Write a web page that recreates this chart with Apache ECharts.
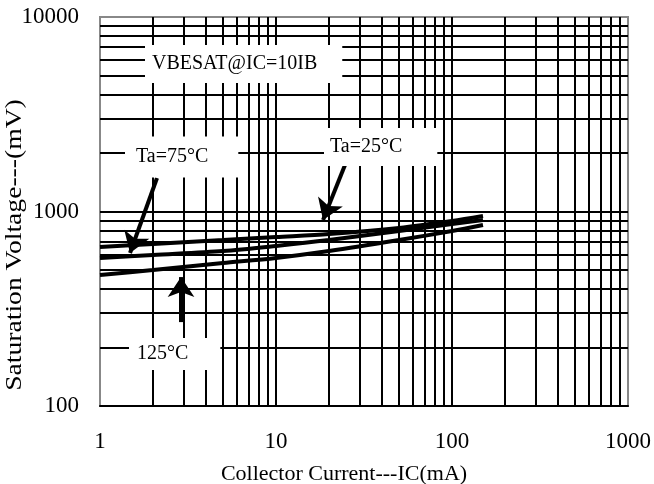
<!DOCTYPE html>
<html>
<head>
<meta charset="utf-8">
<script src="https://cdn.jsdelivr.net/npm/echarts@6/dist/echarts.min.js"></script>
<style>html,body{margin:0;padding:0;background:#fff}#c{width:654px;height:484px}</style>
</head>
<body>
<div id="c"></div>
<script>
// Collector current (mA)
const current = [1, 2, 5, 10, 20, 50, 100, 150];
// VBE(sat) in mV
const vbe25 = [657, 681, 713, 739, 766, 823, 893, 948];
const vbe75 = [577, 598, 626, 665, 713, 794, 862, 904];
const vbe125 = [472, 500, 543, 577, 626, 713, 794, 853];
// grid lines
const xGrid = [2,3,4,5,6,7,8,9,10,20,30,40,50,60,70,80,90,100,200,300,400,500,600,700,800,900];
const yGrid = [200,300,400,500,600,700,800,900,1000,2000,3000,4000,5000,6000,7000,8000,9000];
const xTicks = [1, 10, 100, 1000];
const yTicks = [100, 1000, 10000];
// arrows [start, tip] in data units
const arrows = [
  [[2.108, 1486], [1.481, 612]],
  [[24.66, 1734], [18.5, 904]],
  [[2.886, 270], [2.886, 460]]
];

const serif = '"Liberation Serif","Times New Roman",serif';
const chart = echarts.init(document.getElementById('c'));
const toPairs = (ys) => current.map((x, i) => [x, ys[i]]);

const gridLines = xGrid.map(v => ({xAxis: v})).concat(yGrid.map(v => ({yAxis: v})));

chart.setOption({
  animation: false,
  backgroundColor: '#fff',
  grid: {left: 100, right: 26, top: 17, bottom: 78, containLabel: false, outerBoundsMode: 'none',
    show: true, borderColor: '#888', borderWidth: 2, backgroundColor: 'transparent'},
  xAxis: {
    type: 'log', min: 1, max: 1000, logBase: 10,
    name: 'Collector Current---IC(mA)', nameLocation: 'middle', nameGap: 57, nameMoveOverlap: false,
    nameTextStyle: {fontFamily: serif, fontSize: 22, color: '#000', padding: [0, 40, 0, 0]},
    axisLine: {lineStyle: {color: '#000', width: 2}},
    axisTick: {show: false},
    splitLine: {show: false},
    axisLabel: {fontFamily: serif, fontSize: 23, color: '#000', margin: 24,
      formatter: v => xTicks.includes(Math.round(v)) ? String(Math.round(v)) : ''}
  },
  yAxis: {
    type: 'log', min: 100, max: 10000, logBase: 10,
    axisLine: {show: true, lineStyle: {color: '#888', width: 1}},
    axisTick: {show: false},
    splitLine: {show: false},
    axisLabel: {fontFamily: serif, fontSize: 23, color: '#000', margin: 21,
      formatter: v => yTicks.includes(Math.round(v)) ? String(Math.round(v)) : ''}
  },
  series: [
    {
      type: 'line', name: 'grid', data: [], silent: true,
      markLine: {silent: true, symbol: ['none', 'none'], label: {show: false},
        lineStyle: {color: '#000', width: 2, type: 'solid'}, data: gridLines, animation: false}
    },
    {type: 'line', name: '25', data: toPairs(vbe25), smooth: 0.3, symbol: 'none', lineStyle: {color: '#000', width: 4}, z: 3},
    {type: 'line', name: '75', data: toPairs(vbe75), smooth: 0.3, symbol: 'none', lineStyle: {color: '#000', width: 4}, z: 3},
    {type: 'line', name: '125', data: toPairs(vbe125), smooth: 0.3, symbol: 'none', lineStyle: {color: '#000', width: 4}, z: 3,
      markLine: {silent: true, symbol: ['none', 'arrow'], symbolSize: 20, label: {show: false},
        lineStyle: {color: '#000', width: 4, type: 'solid'},
        data: arrows.map(a => [{coord: a[0]}, {coord: a[1]}])}
    }
  ],
  graphic: [
    {type: 'text', z: 100, x: 15, y: 245, rotation: Math.PI / 2, scaleX: 1.2, style: {text: 'Saturation Voltage---(mV)', font: '23px ' + serif, fill: '#000', align: 'center', verticalAlign: 'middle'}},
    {type: 'text', z: 100, x: 145, y: 64, style: {text: 'VBESAT@IC=10IB', font: '20px ' + serif, fill: '#000', align: 'left', verticalAlign: 'middle', backgroundColor: '#fff', padding: [9, 25, 9, 7]}},
    {type: 'text', z: 100, x: 125, y: 157, style: {text: 'Ta=75°C', font: '20px ' + serif, fill: '#000', align: 'left', verticalAlign: 'middle', backgroundColor: '#fff', padding: [11, 30, 10, 11]}},
    {type: 'text', z: 100, x: 324, y: 147, style: {text: 'Ta=25°C', font: '20px ' + serif, fill: '#000', align: 'left', verticalAlign: 'middle', backgroundColor: '#fff', padding: [9, 35, 9, 6]}},
    {type: 'text', z: 100, x: 129, y: 354, style: {text: '125°C', font: '20px ' + serif, fill: '#000', align: 'left', verticalAlign: 'middle', backgroundColor: '#fff', padding: [6, 32, 6, 8]}}
  ]
});
</script>
</body>
</html>
